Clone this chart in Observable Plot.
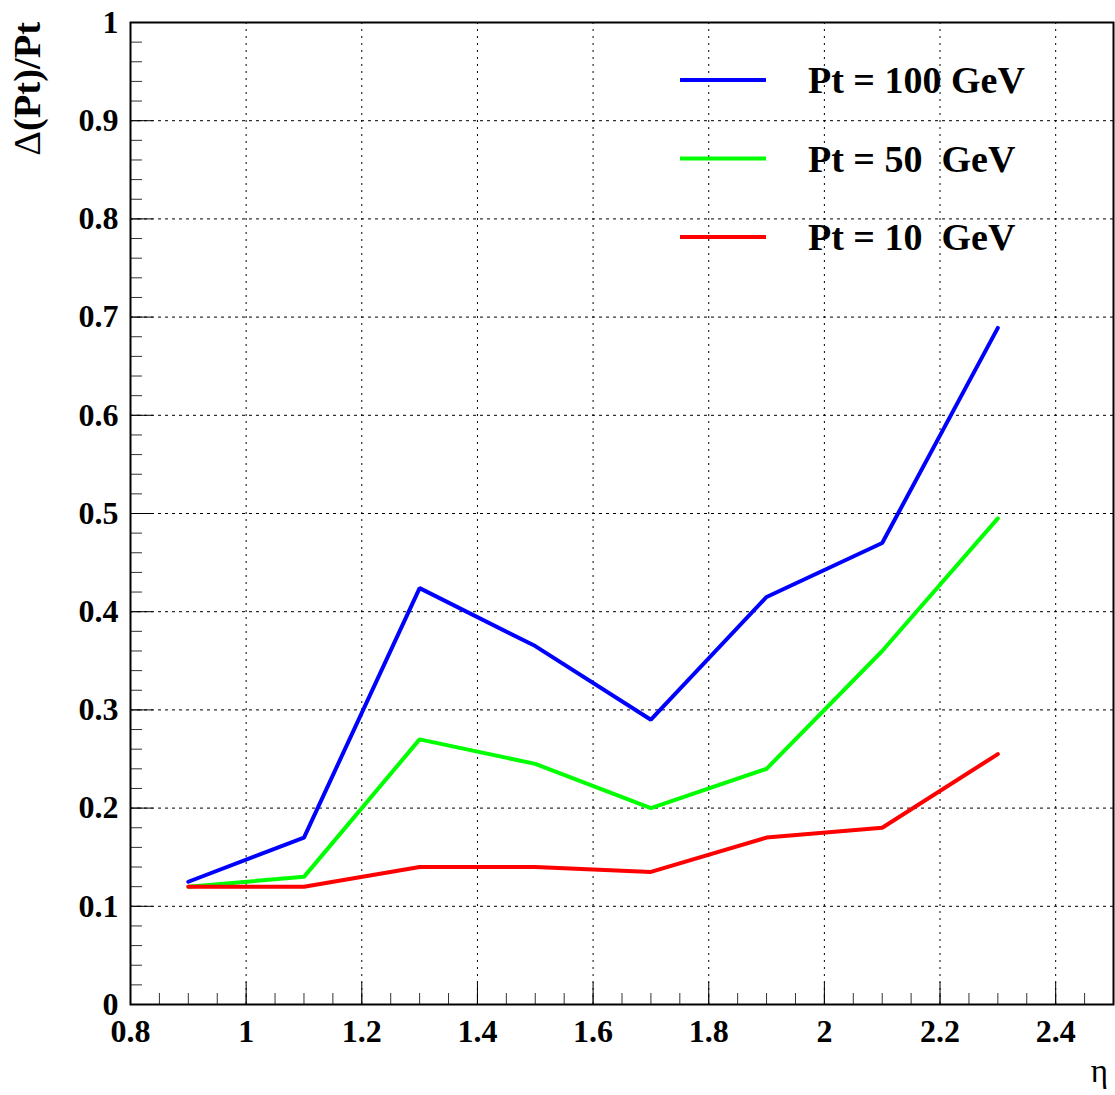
<!DOCTYPE html>
<html>
<head>
<meta charset="utf-8">
<script src="https://cdn.jsdelivr.net/npm/d3@7"></script>
<script src="https://cdn.jsdelivr.net/npm/@observablehq/plot@0.6"></script>
<style>
  html, body { margin: 0; padding: 0; background: white; }
  #chart svg { display: block; }
  #chart svg text { font-family: "Liberation Serif", "Times New Roman", Tinos, "DejaVu Serif", serif !important; }
</style>
</head>
<body>
<div id="chart"></div>
<script>
// ---- data ----
const etas = [0.9, 1.1, 1.3, 1.5, 1.7, 1.9, 2.1, 2.3];
const pt100 = [0.125, 0.170, 0.424, 0.365, 0.290, 0.415, 0.470, 0.689];
const pt50  = [0.120, 0.130, 0.270, 0.245, 0.200, 0.240, 0.360, 0.495];
const pt10  = [0.120, 0.120, 0.140, 0.140, 0.135, 0.170, 0.180, 0.255];
const seriesNames = ["Pt = 100 GeV", "Pt = 50  GeV", "Pt = 10  GeV"];
const seriesColors = ["#0000ff", "#00ff00", "#ff0000"];
const xTicks = [0.8, 1.0, 1.2, 1.4, 1.6, 1.8, 2.0, 2.2, 2.4];
const yTicks = [0, 0.1, 0.2, 0.3, 0.4, 0.5, 0.6, 0.7, 0.8, 0.9, 1.0];
const xMinor = d3.range(0, 35).map(i => +(0.8 + i * 0.05).toFixed(2)).filter(v => v <= 2.5);
const yMinor = d3.range(0, 51).map(i => +(i * 0.02).toFixed(2));
const xTitle = "η";
const yTitleSymbol = "Δ";
const yTitleRest = "(Pt)/Pt";

const allSeries = [pt100, pt50, pt10];
const rows = [];
allSeries.forEach((vals, s) => {
  vals.forEach((v, i) => rows.push({eta: etas[i], v, series: seriesNames[s]}));
});
const fmt = d => String(+(+d).toFixed(1));

const W = 1115, H = 1095;
const mL = 130, mT = 22, mR = 2, mB = 91;
const serif = "'Liberation Serif', 'Times New Roman', Tinos, 'DejaVu Serif', serif";

const chart = Plot.plot({
  width: W, height: H,
  marginLeft: mL, marginTop: mT, marginRight: mR, marginBottom: mB,
  x: {domain: [0.8, 2.5]},
  y: {domain: [0, 1]},
  color: {domain: seriesNames, range: seriesColors},
  style: {fontFamily: serif, fontWeight: "bold", fontSize: "32px", background: "white", color: "black", overflow: "visible"},
  marks: [
    Plot.gridX(xTicks, {stroke: "black", strokeOpacity: 1, strokeWidth: 1, strokeDasharray: "2,5"}),
    Plot.gridY(yTicks, {stroke: "black", strokeOpacity: 1, strokeWidth: 1, strokeDasharray: "3,4"}),
    Plot.axisX(xMinor, {tickSize: -11, text: null, label: null, stroke: "#333"}),
    Plot.axisX(xTicks, {tickSize: -22, text: null, label: null, stroke: "black"}),
    Plot.axisX(xTicks, {tickSize: 0, tickPadding: 15, tickFormat: fmt, label: null, fontSize: 32}),
    Plot.axisY(yMinor, {tickSize: -12, text: null, label: null, stroke: "#333"}),
    Plot.axisY(yTicks, {tickSize: -23, text: null, label: null, stroke: "black"}),
    Plot.axisY(yTicks, {tickSize: 0, tickPadding: 12, tickFormat: fmt, label: null, fontSize: 32}),
    Plot.line(rows, {x: "eta", y: "v", z: "series", stroke: "series", strokeWidth: 4, strokeLinejoin: "miter"}),
    Plot.frame({stroke: "black", strokeWidth: 2})
  ]
});

document.getElementById("chart").appendChild(chart);

// legend, axis titles (layout additions)
const svg = d3.select(chart);
const leg = svg.append("g");
seriesNames.forEach((name, i) => {
  const y = 80 + i * 78.5;
  leg.append("line")
    .attr("x1", 680).attr("x2", 766).attr("y1", y).attr("y2", y)
    .attr("stroke", seriesColors[i]).attr("stroke-width", 4);
  leg.append("text")
    .attr("x", 808).attr("y", y + 13)
    .attr("text-anchor", "start")
    .style("font-family", serif).attr("font-weight", "bold")
    .attr("font-size", 38).attr("fill", "black")
    .style("white-space", "pre")
    .text(name);
});
const yt = svg.append("text")
  .attr("transform", "translate(40,22) rotate(-90)")
  .attr("text-anchor", "end")
  .style("font-family", serif).attr("font-weight", "bold")
  .attr("font-size", 38.5).attr("fill", "black");
yt.append("tspan").attr("font-weight", "normal").text(yTitleSymbol);
yt.append("tspan").text(yTitleRest);
svg.append("text")
  .attr("x", 1108).attr("y", 1082)
  .attr("text-anchor", "end")
  .style("font-family", serif).attr("font-weight", "normal")
  .attr("font-size", 33).attr("fill", "black")
  .text(xTitle);
</script>
</body>
</html>
